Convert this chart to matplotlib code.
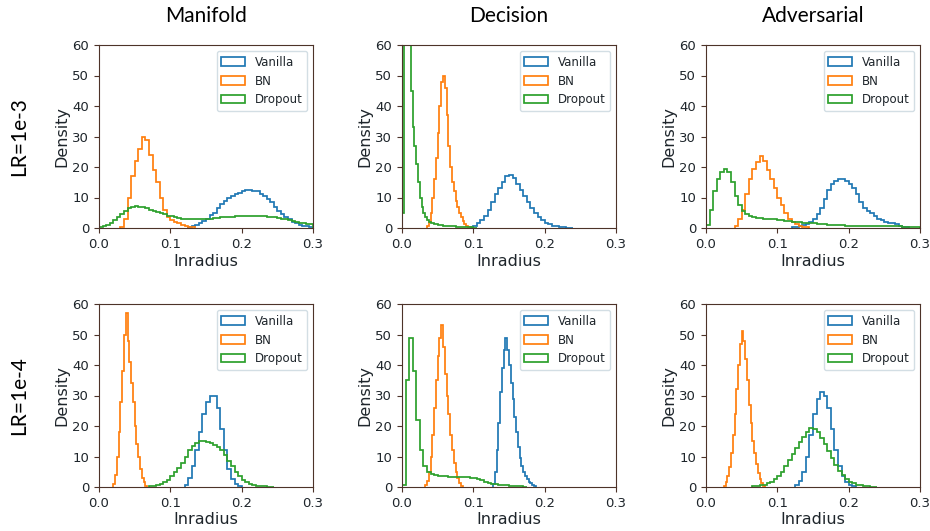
import numpy as np
import matplotlib.pyplot as plt

# histogram densities; each series has a first bin edge
# and a bin width (finer bins for the narrow peaks)
methods = ['Manifold', 'Decision', 'Adversarial']
rates = ['LR=1e-3', 'LR=1e-4']
models = ['Vanilla', 'BN', 'Dropout']
colors = ['#1f77b4', '#ff7f0e', '#2ca02c']

# Manifold, LR=1e-3  (Vanilla, BN, Dropout)
manifold_1e3_start = [0.125, 0.03, 0.0]
manifold_1e3_width = [0.005, 0.005, 0.005]
manifold_1e3_vanilla = [0.3, 0.6, 1.0, 1.5, 2.2, 3.0, 4.2, 5.0, 6.5, 8.0, 9.0, 10.0,
                        10.5, 11.0, 11.5, 12.0, 12.5, 12.5, 12.0, 12.0, 11.0, 10.5,
                        9.5, 8.5, 7.0, 5.5, 4.5, 3.5, 2.8, 2.0, 1.5, 1.0, 0.8, 0.5, 0.3]
manifold_1e3_bn = [0.3, 3, 10, 17, 22, 26, 30, 29, 24, 19, 15, 10, 6, 3.5, 2.5, 2.0,
                   1.5, 1.0, 0.6, 0.4, 0.2]
manifold_1e3_dropout = [0.2, 0.5, 1.0, 1.8, 2.6, 3.5, 4.5, 5.5, 6.5, 7.0, 7.2, 7.0, 6.8,
                        6.5, 6.0, 5.5, 5.2, 4.8, 4.5, 4.0, 3.8, 3.5, 3.2, 3.0, 3.0, 2.9,
                        2.9, 2.9, 3.0, 3.0, 3.0, 3.1, 3.3, 3.4, 3.5, 3.6, 3.6, 3.7, 3.8,
                        3.8, 3.8, 3.9, 3.9, 3.9, 3.8, 3.8, 3.8, 3.7, 3.6, 3.5, 3.3, 3.0,
                        2.8, 2.5, 2.2, 2.0, 1.7, 1.5, 1.3, 1.2]

# Decision, LR=1e-3
decision_1e3_start = [0.095, 0.035, 0.0]
decision_1e3_width = [0.005, 0.0025, 0.0025]
decision_1e3_vanilla = [0.3, 0.8, 1.5, 2.5, 4, 6, 8.5, 11, 13, 15, 17, 17.5, 16.5, 14.5,
                        12.5, 10.5, 8.5, 6.5, 5, 3.5, 2.5, 1.8, 1.2, 0.8, 0.5, 0.3, 0.2,
                        0.1, 0.1]
decision_1e3_bn = [0.5, 2, 5, 10, 16, 23, 31, 40, 48, 50, 46, 37, 27, 20, 15, 12, 9, 7,
                   5, 3.5, 2.2, 1.2, 0.6, 0.2]
decision_1e3_dropout = [5, 70, 85, 80, 68, 45, 33, 27, 21, 15, 10, 7, 5, 3.5, 2.7, 2.1,
                        1.8, 1.6, 1.4, 1.3, 1.1, 1.0, 0.9, 0.8, 0.7, 0.6, 0.6, 0.5, 0.5,
                        0.5, 0.4, 0.4, 0.4, 0.3, 0.3, 0.3, 0.3, 0.2, 0.2, 0.2, 0.1, 0.1]

# Adversarial, LR=1e-3
adversarial_1e3_start = [0.12, 0.04, 0.0]
adversarial_1e3_width = [0.005, 0.005, 0.005]
adversarial_1e3_vanilla = [0.2, 0.4, 0.6, 0.9, 1.3, 2, 3, 4.5, 6.5, 9.5, 12.5, 14.5,
                           15.5, 16, 16, 15.5, 14.5, 13, 11, 8.5, 6.5, 5.5, 4.8, 4, 3,
                           2.5, 2, 1.8, 1.5, 1.2, 0.8, 0.4, 0.2]
adversarial_1e3_bn = [0.5, 3, 6, 11, 16, 19.5, 21.5, 23.5, 22, 19, 16, 13, 10, 7.5, 5,
                      3, 2, 1.2, 0.7, 0.4, 0.2]
adversarial_1e3_dropout = [1, 6, 12, 16, 18.5, 19.5, 18.5, 15, 10.5, 7.5, 5.5, 4.5, 4,
                           3.6, 3.4, 3.2, 3.1, 3, 2.9, 2.8, 2.6, 2.5, 2.4, 2.2, 2.1, 2,
                           1.9, 1.8, 1.7, 1.6, 1.5, 1.4, 1.3, 1.2, 1.1, 1.0, 1.0, 0.9,
                           0.9, 0.8, 0.8, 0.7, 0.7, 0.7, 0.6, 0.6, 0.6, 0.6, 0.5, 0.5,
                           0.5, 0.5, 0.5, 0.5, 0.5, 0.4, 0.4, 0.4, 0.4, 0.4]

# Manifold, LR=1e-4
manifold_1e4_start = [0.12, 0.02, 0.07]
manifold_1e4_width = [0.005, 0.0025, 0.005]
manifold_1e4_vanilla = [0.5, 3, 7, 12, 18, 24, 28, 30, 30, 26, 19, 12, 6, 2.5, 1, 0.3]
manifold_1e4_bn = [1, 4, 10, 18, 28, 38, 50, 57, 48, 41, 34, 28, 20, 14, 10, 6, 3, 1.5,
                   0.4]
manifold_1e4_dropout = [0.2, 0.3, 0.6, 1, 1.6, 2.4, 3.5, 4.8, 6.3, 8, 10, 12, 13.5,
                        14.5, 15, 15, 14.8, 14.3, 13.8, 13, 12, 10.5, 8.5, 6.8, 5, 3.5,
                        2.3, 1.5, 1, 0.6, 0.4, 0.3, 0.2, 0.15, 0.1]

# Decision, LR=1e-4
decision_1e4_start = [0.1275, 0.0325, 0.0]
decision_1e4_width = [0.0025, 0.0025, 0.005]
decision_1e4_vanilla = [1, 5, 12, 21, 31, 39, 45, 49, 45, 40, 34, 29, 23, 18, 13, 9.5,
                        7, 5, 3.5, 2.5, 1.8, 1.2, 0.6, 0.2]
decision_1e4_bn = [0.5, 2, 5, 10, 17, 26, 35, 43, 49, 53, 46, 37, 30, 24, 17, 12, 8, 5,
                   3, 1.2, 0.3]
decision_1e4_dropout = [0.5, 35, 49, 38, 22, 12, 7, 5, 4.2, 3.8, 3.6, 3.5, 3.6, 3.4,
                        3.3, 3.4, 3.3, 3.2, 3.2, 3.0, 2.8, 2.5, 2.2, 1.8, 1.4, 1.1, 0.9,
                        0.7, 0.6, 0.5, 0.4, 0.3, 0.2, 0.2, 0.1]

# Adversarial, LR=1e-4
adversarial_1e4_start = [0.125, 0.025, 0.065]
adversarial_1e4_width = [0.005, 0.0025, 0.005]
adversarial_1e4_vanilla = [0.5, 2, 5, 10, 17, 24, 29, 31, 30, 26, 19, 12, 7, 3.5, 1.5,
                           0.5, 0.2]
adversarial_1e4_bn = [0.3, 1.5, 3.5, 6.5, 11, 17, 24, 32, 40, 47, 51, 48, 42, 35, 27,
                      21, 15, 11, 7.5, 4.5, 2.5, 1.2, 0.4]
adversarial_1e4_dropout = [0.2, 0.3, 0.5, 0.8, 1.2, 1.8, 2.6, 3.6, 5, 6.8, 8.8, 10.8,
                           12.8, 14.8, 16.5, 18, 19.3, 19, 18, 16.2, 14, 11.8, 9.5, 7.3,
                           5.3, 3.8, 2.6, 1.8, 1.2, 0.8, 0.5, 0.3, 0.2, 0.1, 0.1]

panels = {
    ('LR=1e-3', 'Manifold'): (manifold_1e3_start, manifold_1e3_width,
                              [manifold_1e3_vanilla, manifold_1e3_bn, manifold_1e3_dropout]),
    ('LR=1e-3', 'Decision'): (decision_1e3_start, decision_1e3_width,
                              [decision_1e3_vanilla, decision_1e3_bn, decision_1e3_dropout]),
    ('LR=1e-3', 'Adversarial'): (adversarial_1e3_start, adversarial_1e3_width,
                                 [adversarial_1e3_vanilla, adversarial_1e3_bn, adversarial_1e3_dropout]),
    ('LR=1e-4', 'Manifold'): (manifold_1e4_start, manifold_1e4_width,
                              [manifold_1e4_vanilla, manifold_1e4_bn, manifold_1e4_dropout]),
    ('LR=1e-4', 'Decision'): (decision_1e4_start, decision_1e4_width,
                              [decision_1e4_vanilla, decision_1e4_bn, decision_1e4_dropout]),
    ('LR=1e-4', 'Adversarial'): (adversarial_1e4_start, adversarial_1e4_width,
                                 [adversarial_1e4_vanilla, adversarial_1e4_bn, adversarial_1e4_dropout]),
}

W, H = 930, 531
fig = plt.figure(figsize=(W / 100, H / 100), dpi=100)

col_left = [99, 402, 706]
row_bottom = [228, 487]
ax_w, ax_h = 214, 183
spine_col = '#4d3329'
text_col = '#1e252b'

for r, rate in enumerate(rates):
    for c, method in enumerate(methods):
        ax = fig.add_axes([col_left[c] / W, 1 - row_bottom[r] / H, ax_w / W, ax_h / H])
        starts, widths, series = panels[(rate, method)]
        for start, bw, vals, name, col in zip(starts, widths, series, models, colors):
            vals = np.array(vals, dtype=float)
            edges = start + bw * np.arange(len(vals) + 1)
            centers = edges[:-1] + bw / 2
            ax.hist(centers, bins=edges, weights=vals, histtype='step',
                    color=col, lw=1.25, label=name)
        ax.set_xlim(0, 0.3)
        ax.set_ylim(0, 60)
        ax.set_xticks([0.0, 0.1, 0.2, 0.3])
        ax.set_yticks(range(0, 61, 10))
        ax.tick_params(labelsize=9.5, colors=spine_col, labelcolor=text_col)
        for sp in ax.spines.values():
            sp.set_color(spine_col)
        ax.set_xlabel('Inradius', fontsize=11.5, color=text_col, labelpad=2)
        ax.set_ylabel('Density', fontsize=11.5, color=text_col, labelpad=2)
        leg = ax.legend(loc='upper right', fontsize=8.5)
        leg.get_frame().set_edgecolor('#c8d6de')
        for t in leg.get_texts():
            t.set_color(text_col)
        if r == 0:
            fig.text((col_left[c] + ax_w / 2) / W, 1 - 16 / H, method,
                     ha='center', va='center', fontsize=15, family='Lato', color='black')
    fig.text(19 / W, 1 - (row_bottom[r] - ax_h / 2) / H, rate, rotation=90,
             ha='center', va='center', fontsize=15, family='Lato', color='black')

fig.savefig('out.png', dpi=100)
